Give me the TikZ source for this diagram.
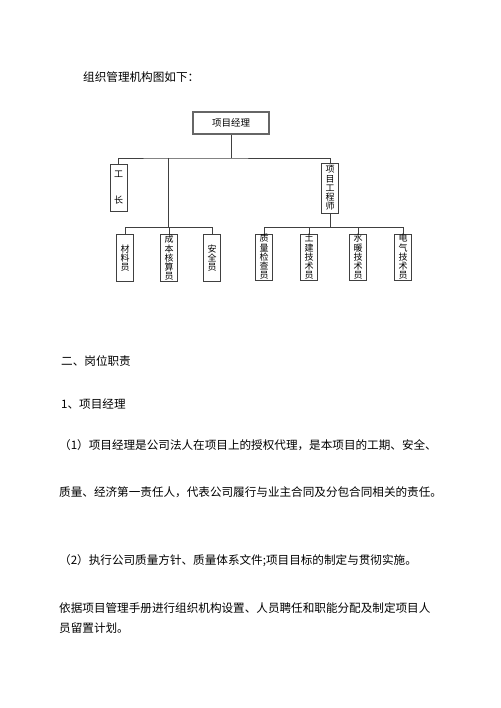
\documentclass[tikz,border=0pt]{standalone}
\usepackage{fontspec}
\newfontfamily\cjk{Noto Sans CJK SC}
\begin{document}
\begin{tikzpicture}[x=1pt,y=-1pt,
        box/.style={draw=rule,fill=white,inner sep=0pt,minimum width=17,align=center,
            font=\cjk\fontsize{9}{9.2}\selectfont},
        body/.style={anchor=west,inner sep=0pt,font=\cjk\fontsize{11.6}{14}\selectfont}]
        \colorlet{rule}{black!75}
        \useasboundingbox (0,0) rectangle (500,708);
        \begin{scope}
            \node[box,draw=black!60,line width=1.6pt,minimum width=76,minimum height=22,
                font=\cjk\fontsize{9.5}{10}\selectfont] (pm) at (231,123) {项目经理};
            \node[box,minimum height=47] (gz) at (118.5,187.5) {工\\[16pt]长};
            \node[box,minimum height=50] (gcs) at (330,188) {项\\目\\工\\程\\师};
            \coordinate (hub) at (168,158);
            \coordinate (lbus) at (168,227);
            \coordinate (rbus) at (330,227);
            \draw[rule] (pm.south) -- (pm.south |- hub);
            \draw[rule] (gz.north) |- (hub) -| (gcs.north);
            \draw[rule] (hub) -- (lbus);
            \draw[rule] (gcs.south) -- (rbus);
            \foreach \x/\name/\txt in {125/cl/{材\\料\\员},169/cb/{成\\本\\核\\算\\员},212/aq/{安\\全\\员}}
            {
                \node[box,minimum height=47] (\name) at (\x,258) {\txt};
                \draw[rule] (lbus) -| (\name.north);
            }
            \foreach \x/\name/\txt in {264/zl/{质\\量\\检\\查\\员},309/tj/{土\\建\\技\\术\\员},358/sn/{水\\暖\\技\\术\\员},403/dq/{电\\气\\技\\术\\员}}
            {
                \node[box,minimum height=46] (\name) at (\x,257) {\txt};
                \draw[rule] (rbus) -| (\name.north);
            }
        \end{scope}
        \node[body] (title) at (83,77) {组织管理机构图如下：};
        \node[body] (sec) at (61,361) {二、岗位职责};
        \node[body] (sub) at (61,404) {1、项目经理};
        \node[body] (p1a) at (59,445) {（1）项目经理是公司法人在项目上的授权代理，是本项目的工期、安全、};
        \node[body] (p1b) at (59,492) {质量、经济第一责任人，代表公司履行与业主合同及分包合同相关的责任。};
        \node[body] (p2) at (59,561) {（2）执行公司质量方针、质量体系文件;项目目标的制定与贯彻实施。};
        \node[body] (p3a) at (59,608) {依据项目管理手册进行组织机构设置、人员聘任和职能分配及制定项目人};
        \node[body] (p3b) at (59,628) {员留置计划。};
    \end{tikzpicture}
\end{document}
